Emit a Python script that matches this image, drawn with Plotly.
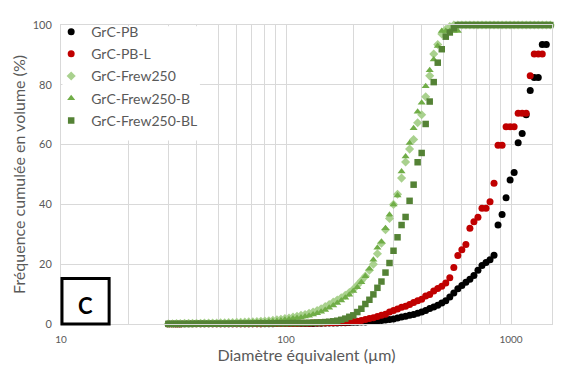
import plotly.graph_objects as go

# diamètres des classes (µm), communs à toutes les séries
diam = [30.0, 31.3, 32.6, 33.9, 35.4, 36.9, 38.4, 40.0, 41.7, 43.4,
        45.3, 47.2, 49.2, 51.2, 53.4, 55.6, 57.9, 60.4, 62.9, 65.6,
        68.3, 71.2, 74.2, 77.3, 80.5, 83.9, 87.4, 91.1, 94.9, 98.9,
        103.1, 107.4, 111.9, 116.6, 121.5, 126.6, 131.9, 137.5, 143.2, 149.3,
        155.5, 162.1, 168.9, 176.0, 183.4, 191.1, 199.1, 207.4, 216.2, 225.2,
        234.7, 244.5, 254.8, 265.5, 276.7, 288.3, 300.4, 313.0, 326.2, 339.9,
        354.1, 369.0, 384.5, 400.7, 417.5, 435.0, 453.3, 472.3, 492.2, 512.8,
        534.4, 556.8, 580.2, 604.6, 630.0, 656.4, 684.0, 712.7, 742.7, 773.9,
        806.4, 840.2, 875.5, 912.3, 950.6, 990.5, 1032.1, 1075.5, 1120.6, 1167.7,
        1216.8, 1267.9, 1321.1, 1376.6, 1434.4, 1494.7]

grc_pb = [0.0, 0.0, 0.0, 0.0, 0.05, 0.05, 0.05, 0.05, 0.05, 0.05,
          0.05, 0.05, 0.05, 0.05, 0.05, 0.05, 0.1, 0.1, 0.1, 0.1,
          0.1, 0.1, 0.1, 0.1, 0.1, 0.1, 0.1, 0.15, 0.15, 0.15,
          0.15, 0.15, 0.15, 0.2, 0.2, 0.2, 0.2, 0.25, 0.25, 0.3,
          0.3, 0.35, 0.35, 0.4, 0.45, 0.5, 0.55, 0.6, 0.65, 0.7,
          0.8, 0.9, 1.0, 1.15, 1.3, 1.5, 1.7, 2.0, 2.3, 2.6,
          2.9, 3.2, 3.6, 4.0, 4.5, 5.2, 5.7, 6.3, 7.0, 7.8,
          9.0, 10.4, 11.8, 12.9, 14.0, 15.0, 16.2, 18.0, 19.6, 20.6,
          21.5, 23.0, 33.1, 36.6, 42.2, 48.2, 50.7, 60.6, 63.7, 70.0,
          78.1, 82.4, 82.4, 93.5, 93.5]

grc_pb_l = [0.0, 0.0, 0.0, 0.0, 0.05, 0.05, 0.05, 0.05, 0.05, 0.05,
            0.05, 0.05, 0.05, 0.05, 0.05, 0.1, 0.1, 0.1, 0.1, 0.1,
            0.1, 0.1, 0.1, 0.1, 0.15, 0.15, 0.15, 0.15, 0.15, 0.2,
            0.2, 0.2, 0.2, 0.25, 0.25, 0.25, 0.3, 0.3, 0.35, 0.35,
            0.4, 0.45, 0.5, 0.55, 0.6, 0.7, 0.8, 0.95, 1.2, 1.5,
            1.8, 2.1, 2.5, 2.9, 3.3, 4.0, 4.5, 5.0, 5.6, 5.9,
            6.5, 7.2, 7.8, 8.3, 9.4, 9.9, 11.0, 11.9, 12.6, 13.7,
            15.5, 18.9, 22.9, 24.8, 26.6, 32.0, 34.2, 35.7, 38.7, 38.7,
            40.9, 47.1, 59.8, 59.8, 66.0, 66.0, 66.0, 70.5, 70.5, 70.5,
            83.0, 90.3, 90.3, 90.3]

frew250 = [0.1, 0.1, 0.15, 0.15, 0.2, 0.2, 0.2, 0.25, 0.25, 0.3,
           0.3, 0.35, 0.35, 0.4, 0.4, 0.45, 0.5, 0.55, 0.6, 0.65,
           0.7, 0.75, 0.8, 0.9, 1.0, 1.1, 1.2, 1.4, 1.6, 1.8,
           2.0, 2.3, 2.6, 2.9, 3.2, 3.6, 4.0, 4.5, 5.1, 5.8,
           6.5, 7.3, 8.0, 8.8, 9.6, 10.5, 11.6, 13.0, 14.5, 16.0,
           18.0, 20.0, 23.5, 27.0, 31.5, 35.3, 40.0, 43.4, 48.8, 54.2,
           58.5, 61.7, 67.3, 70.0, 76.0, 83.0, 90.3, 93.5, 97.0, 98.5,
           99.5, 100, 100, 100, 100, 100, 100, 100, 100, 100,
           100, 100, 100, 100, 100, 100, 100, 100, 100, 100,
           100, 100, 100, 100, 100, 100]

frew250_b = [0.05, 0.05, 0.1, 0.1, 0.1, 0.1, 0.15, 0.15, 0.15, 0.2,
             0.2, 0.2, 0.25, 0.25, 0.3, 0.3, 0.35, 0.35, 0.4, 0.45,
             0.5, 0.55, 0.6, 0.65, 0.7, 0.8, 0.9, 1.0, 1.2, 1.4,
             1.6, 1.8, 2.0, 2.2, 2.5, 2.8, 3.2, 3.6, 4.1, 4.7,
             5.4, 6.2, 7.0, 7.9, 8.8, 9.8, 11.0, 12.3, 14.0, 16.0,
             18.5, 21.5, 25.5, 27.5, 32.0, 36.5, 40.0, 43.0, 51.0, 56.0,
             60.5, 65.5, 71.0, 74.0, 79.5, 84.9, 88.5, 93.0, 98.0, 98.0,
             98.0, 98.0, 98.0, 100, 100, 100, 100, 100, 100, 100,
             100, 100, 100, 100, 100, 100, 100, 100, 100, 100,
             100, 100, 100, 100, 100, 100]

frew250_bl = [0.05, 0.05, 0.05, 0.05, 0.05, 0.05, 0.05, 0.1, 0.1, 0.1,
              0.1, 0.1, 0.1, 0.1, 0.1, 0.1, 0.15, 0.15, 0.15, 0.15,
              0.15, 0.15, 0.2, 0.2, 0.2, 0.2, 0.2, 0.25, 0.25, 0.25,
              0.3, 0.3, 0.3, 0.35, 0.35, 0.4, 0.45, 0.5, 0.55, 0.65,
              0.75, 0.9, 1.1, 1.4, 1.8, 2.4, 2.9, 4.0, 5.1, 6.7,
              8.1, 9.9, 12.1, 14.2, 17.2, 20.4, 24.5, 29.0, 33.1, 35.8,
              41.2, 46.6, 54.1, 57.2, 66.9, 74.4, 80.9, 87.4, 91.9, 96.1,
              97.5, 98.9, 100, 100, 100, 100, 100, 100, 100, 100,
              100, 100, 100, 100, 100, 100, 100, 100, 100, 100,
              100, 100, 100, 100, 100, 100]

series = [
    ('GrC-PB', grc_pb, 'circle', '#000000', 7),
    ('GrC-PB-L', grc_pb_l, 'circle', '#c00000', 7),
    ('GrC-Frew250', frew250, 'diamond', '#a9d18e', 7),
    ('GrC-Frew250-B', frew250_b, 'triangle-up', '#70ad47', 7),
    ('GrC-Frew250-BL', frew250_bl, 'square', '#548235', 6.5),
]

FONT = 'Lato, Open Sans, sans-serif'
GREY = '#595959'
GRID = '#d9d9d9'

fig = go.Figure()
for name, vals, sym, col, size in series:
    fig.add_trace(go.Scatter(
        x=diam[:len(vals)],
        y=vals,
        mode='markers',
        name=name,
        legendgroup=name,
        cliponaxis=False,
        marker=dict(symbol=sym, color=col, size=size, line=dict(width=0)),
    ))

# la page ajoute 8 px de marge autour de la figure
fig.update_layout(
    width=558,
    height=366,
    margin=dict(l=53, r=14, t=8, b=50),
    paper_bgcolor='white',
    plot_bgcolor='white',
    font=dict(family=FONT, color=GREY),
    showlegend=True,
    legend=dict(
        x=-0.02, y=1.03, xanchor='left', yanchor='top',
        bgcolor='rgba(0,0,0,0)', borderwidth=0,
        font=dict(size=14, color=GREY),
        traceorder='grouped', tracegroupgap=1,
    ),
    xaxis=dict(
        type='log',
        range=[1, 3.182],
        automargin=False,
        tickvals=[10, 100, 1000],
        ticktext=['10', '100', '1000'],
        showgrid=True, gridcolor=GRID, gridwidth=1,
        minor=dict(showgrid=True, gridcolor=GRID, dtick='D1', ticks=''),
        showline=True, linecolor=GRID, mirror=True,
        zeroline=False,
        ticks='',
        ticklabelstandoff=6,
        tickfont=dict(size=10, color=GREY),
        title=dict(text='Diamètre équivalent (µm)', font=dict(size=16, color=GREY), standoff=5),
    ),
    yaxis=dict(
        range=[0, 100],
        automargin=False,
        dtick=20,
        showgrid=True, gridcolor=GRID, gridwidth=1,
        showline=True, linecolor=GRID, mirror=True,
        zeroline=False,
        ticks='',
        ticklabelstandoff=6,
        tickfont=dict(size=11, color=GREY),
        title=dict(text='Fréquence cumulée en volume (%)', font=dict(size=16, color=GREY), standoff=3),
    ),
)

# fond blanc de la légende (laisse visibles les bords du graphe)
fig.add_shape(type='rect', xref='paper', yref='paper',
              x0=0.003, x1=0.283, y0=0.614, y1=0.996,
              line=dict(width=0), fillcolor='white', layer='above')

# cadre "C"
fig.add_shape(type='rect', xref='paper', yref='paper',
              x0=0.002, x1=0.098, y0=0.0, y1=0.152,
              line=dict(color='black', width=3), fillcolor='white', layer='above')
fig.add_annotation(text='C', xref='paper', yref='paper', x=0.05, y=0.062,
                   xanchor='center', yanchor='middle',
                   showarrow=False, font=dict(size=22, color='black', family=FONT, weight='bold'))

fig.write_html("out.html")
